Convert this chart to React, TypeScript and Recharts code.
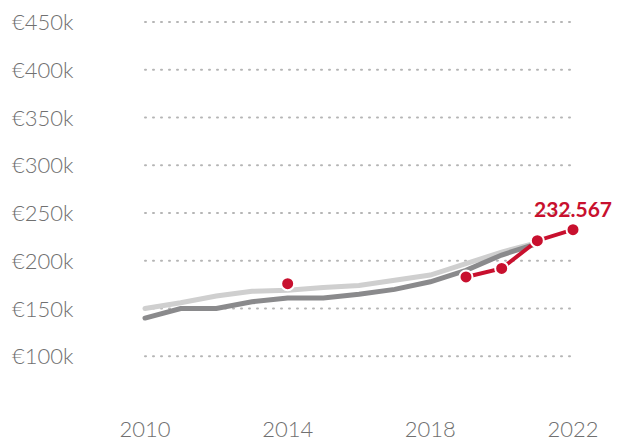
import React from 'react';
import { LineChart, Line, XAxis, YAxis, CartesianGrid } from 'recharts';

const years = [2010, 2011, 2012, 2013, 2014, 2015, 2016, 2017, 2018, 2019, 2020, 2021, 2022];
const lightSeries = [150000, 156000, 163000, 168000, 169000, 172000, 174000, 179500, 185000, 197000, 209000, 219000, null];
const darkSeries = [140000, 150000, 150000, 157000, 161000, 161000, 165000, 170000, 178000, 190000, 206000, 218000, null];
const redSeries = [null, null, null, null, 176000, null, null, null, null, 183000, 192000, 221000, 232567];
const yTicks = [100000, 150000, 200000, 250000, 300000, 350000, 400000, 450000];
const xTicks = [2010, 2014, 2018, 2022];
const lastLabel = '232.567';

const data = years.map((y, i) => ({ year: y, light: lightSeries[i], dark: darkSeries[i], red: redSeries[i] }));

const FONT = 'Lato, "Open Sans", sans-serif';
const RED = '#c8102e';

const YTick = (props: any) => {
  const { y, payload } = props;
  return (
    <text x={12} y={y} dy={8} textAnchor="start" fontFamily={FONT} fontWeight={300} fontSize={22} fill="#707070">
      {`€${payload.value / 1000}k`}
    </text>
  );
};

const XTick = (props: any) => {
  const { x, payload } = props;
  return (
    <text x={x} y={437} textAnchor="middle" fontFamily={FONT} fontWeight={300} fontSize={22} fill="#707070">
      {payload.value}
    </text>
  );
};

const RedLabel = (props: any) => {
  const { x, y, index } = props;
  if (index !== years.length - 1) return null;
  return (
    <text x={x} y={y - 13} textAnchor="middle" fontFamily={FONT} fontWeight={700} fontSize={21} fill={RED}>
      {lastLabel}
    </text>
  );
};

export default function App() {
  return (
    <div style={{ position: 'absolute', left: 0, top: 0 }}>
      <LineChart width={630} height={443} data={data} margin={{ top: 22, right: 57, bottom: 0, left: 0 }}>
        <CartesianGrid horizontal vertical={false} horizontalValues={yTicks} stroke="#b5b5b5" strokeWidth={2} strokeDasharray="1 7" strokeLinecap="round" />
        <XAxis dataKey="year" type="number" domain={[2010, 2022]} ticks={xTicks} axisLine={false} tickLine={false} height={39} tick={<XTick />} />
        <YAxis type="number" domain={[50000, 450000]} ticks={yTicks} axisLine={false} tickLine={false} width={145} tick={<YTick />} />
        <Line dataKey="light" stroke="#cfcfcf" strokeWidth={5} dot={false} strokeLinecap="round" isAnimationActive={false} />
        <Line dataKey="dark" stroke="#8a8a8c" strokeWidth={5} dot={false} strokeLinecap="round" isAnimationActive={false} />
        <Line dataKey="red" stroke={RED} strokeWidth={4} connectNulls={false} dot={{ r: 6.5, fill: RED, stroke: '#fff', strokeWidth: 2 }} label={<RedLabel />} isAnimationActive={false} />
      </LineChart>
    </div>
  );
}
